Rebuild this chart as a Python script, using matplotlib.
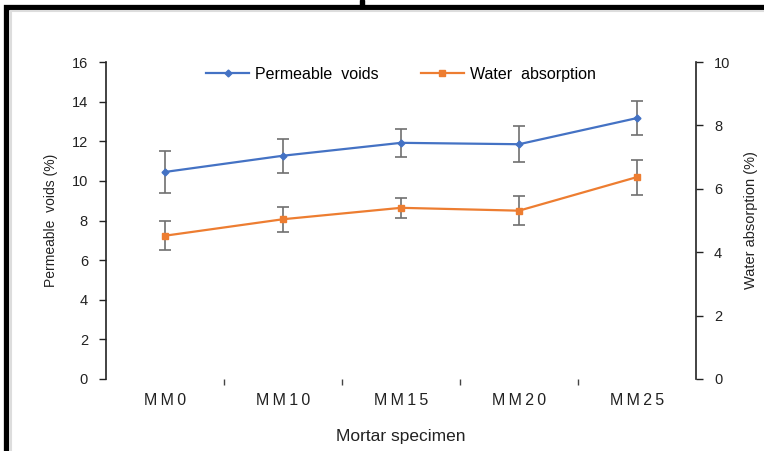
import matplotlib
matplotlib.use("Agg")
import matplotlib.pyplot as plt
from matplotlib.patches import Rectangle
from matplotlib.lines import Line2D
import numpy as np

plt.rcParams['font.family'] = ['Liberation Sans', 'DejaVu Sans']

categories = ["MM0", "MM10", "MM15", "MM20", "MM25"]
voids = [10.45, 11.27, 11.92, 11.85, 13.17]
voids_err = [1.08, 0.86, 0.72, 0.90, 0.86]
water = [4.52, 5.04, 5.40, 5.31, 6.37]
water_err = [0.45, 0.39, 0.32, 0.45, 0.55]

W, H = 764, 451
fig = plt.figure(figsize=(W / 100, H / 100), dpi=100)
fig.patch.set_facecolor("white")

ax = fig.add_axes([106 / W, 1 - 379 / H, 590 / W, 317 / H])
ax2 = ax.twinx()

x = np.arange(len(categories))
blue = "#4472C4"
orange = "#ED7D31"
errc = "#6f6f6f"

ax.errorbar(x, voids, yerr=voids_err, color=blue, lw=1.6, marker="D", ms=3.5,
            ecolor=errc, elinewidth=1.2, capsize=4, capthick=1.2, zorder=3)
ax2.errorbar(x, water, yerr=water_err, color=orange, lw=1.6, marker="s", ms=5,
             ecolor=errc, elinewidth=1.2, capsize=4, capthick=1.2, zorder=3)

ax.set_xlim(-0.5, len(categories) - 0.5)
ax.set_ylim(0, 16)
ax.set_yticks(np.arange(0, 17, 2))
ax2.set_ylim(0, 10)
ax2.set_yticks(np.arange(0, 11, 2))

def spaced(s):
    return "\u2009".join(s)

ax.set_xticks(x)
ax.set_xticklabels([spaced(c) for c in categories], fontsize=11.5, color="#222222")
ax.set_xticks(np.arange(0.5, len(categories) - 0.5, 1), minor=True)
ax.tick_params(axis="x", which="major", length=0, pad=10)
ax.tick_params(axis="x", which="minor", length=4, width=1, color="#444444", direction="out")

for a in (ax, ax2):
    a.spines["top"].set_visible(False)
    a.spines["bottom"].set_visible(False)
ax.spines["right"].set_visible(False)
ax2.spines["left"].set_visible(False)
ax.spines["left"].set_linewidth(1.2)
ax2.spines["right"].set_linewidth(1.2)
ax.spines["left"].set_color("#222222")
ax2.spines["right"].set_color("#222222")

ax.tick_params(axis="y", length=5, width=1, labelsize=10.5, color="#222222", labelcolor="#222222", pad=8)
ax2.tick_params(axis="y", length=5, width=1, labelsize=10.5, color="#222222", labelcolor="#222222", pad=8)

ax.set_ylabel("Permeable  voids (%)", fontsize=10, color="#222222", labelpad=10)
ax2.set_ylabel("Water absorption (%)", fontsize=10.5, color="#222222", labelpad=10)
ax.set_xlabel("Mortar specimen", fontsize=12.5, color="#222222", labelpad=15)

handles = [
    Line2D([], [], color=blue, lw=1.6, marker="D", ms=3.5),
    Line2D([], [], color=orange, lw=1.6, marker="s", ms=5),
]
ax.legend(handles, ["Permeable  voids", "Water  absorption"], ncol=2, frameon=False,
          loc="upper center", bbox_to_anchor=(0.5, 1.03), fontsize=11.5,
          handlelength=2.7, handletextpad=0.4, columnspacing=2.6)

# outer frame
fig.patches.append(Rectangle((5.5 / W, -0.1), 1.2, 1.1 - 7 / H,
                             transform=fig.transFigure, fill=False,
                             edgecolor="black", lw=3.8, zorder=10))
fig.patches.append(Rectangle((10.5 / W, -0.1), 1.2, 1.1 - 11 / H,
                             transform=fig.transFigure, fill=False,
                             edgecolor="#dddddd", lw=1.5, zorder=10))
fig.patches.append(Rectangle((360 / W, 1 - 6 / H), 4 / W, 6 / H,
                             transform=fig.transFigure, color="black", zorder=10))

fig.savefig("out.png", dpi=100)
